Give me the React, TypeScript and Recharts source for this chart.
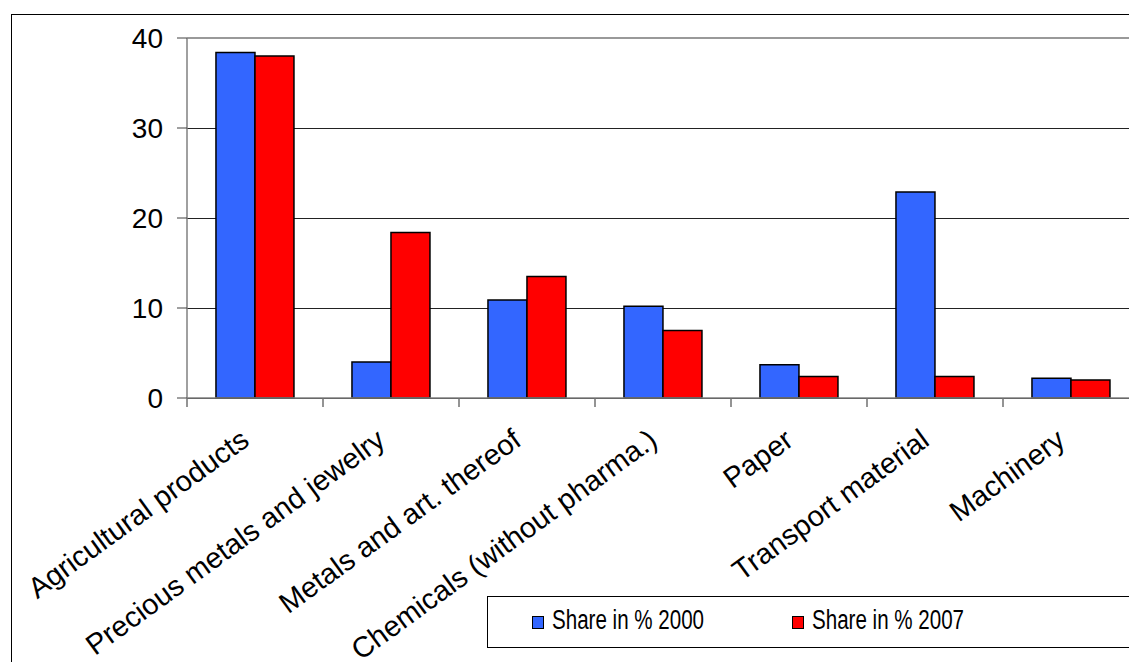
import React from "react";
import { BarChart, Bar, XAxis, YAxis, CartesianGrid, ReferenceLine, Legend } from "recharts";

const categories = [
  "Agricultural products",
  "Precious metals and jewelry",
  "Metals and art. thereof",
  "Chemicals (without pharma.)",
  "Paper",
  "Transport material",
  "Machinery",
];
const share2000 = [38.4, 4.0, 10.9, 10.2, 3.7, 22.9, 2.2];
const share2007 = [38.0, 18.4, 13.5, 7.5, 2.4, 2.4, 2.0];
const yTicks = [0, 10, 20, 30, 40];

const data = categories.map((name, i) => ({ name, s2000: share2000[i], s2007: share2007[i] }));

const FONT = "'Liberation Sans', Arial, sans-serif";
const CHART_W = 1160;
const CHART_H = 662;
const MARGIN = { top: 38, right: 21, left: 127, bottom: 64 };
const Y_AXIS_W = 60;
const X_AXIS_H = 200;
const PLOT_W = CHART_W - MARGIN.left - MARGIN.right - Y_AXIS_W;
const BAND = PLOT_W / categories.length;

// category label, rotated, plus the boundary tick on the left of each band
function CategoryTick(props: any) {
  const { x, y, payload } = props;
  const left = x - BAND / 2;
  const tx = x - 4;
  const ty = y + 46;
  return (
    <g>
      <line x1={left} x2={left} y1={y} y2={y + 9} stroke="#707070" strokeWidth={1.5} />
      <text
        x={tx}
        y={ty}
        textAnchor="end"
        transform={`rotate(-36, ${tx}, ${ty})`}
        fontFamily={FONT}
        fontSize={29}
        fill="#000"
      >
        {payload.value}
      </text>
    </g>
  );
}

// horizontal grid line snapped to the pixel grid so it stays a crisp 1px
function GridLine(props: any) {
  const { x1, x2, y1, y2 } = props;
  return <line x1={x1} x2={x2} y1={y1 + 0.5} y2={y2 + 0.5} stroke="#222" strokeWidth={1} />;
}

function LegendBox(props: any) {
  const items = props.payload || [];
  const slots = [45, 305];
  return (
    <svg width={660} height={52} style={{ display: "block" }}>
      <rect x={0.5} y={0.5} width={700} height={51} fill="#fff" stroke="#000" strokeWidth={1} />
      {items.map((it: any, i: number) => (
        <g key={it.value}>
          <rect x={slots[i] + 0.5} y={20.5} width={11} height={12} fill={it.color} stroke="#000" strokeWidth={1} />
          <text
            x={slots[i] + 20}
            y={33}
            fontFamily={FONT}
            fontSize={27}
            textLength={152}
            lengthAdjust="spacingAndGlyphs"
            fill="#000"
          >
            {it.value}
          </text>
        </g>
      ))}
    </svg>
  );
}

export default function App() {
  return (
    <div style={{ position: "absolute", left: 0, top: 0, width: 1129, height: 662, overflow: "hidden", background: "#fff" }}>
      <div
        style={{
          position: "absolute",
          left: 11,
          top: 14,
          width: 1300,
          height: 800,
          border: "1px solid #000",
        }}
      />
      <div style={{ position: "absolute", left: 0, top: 0 }}>
        <BarChart width={CHART_W} height={CHART_H} data={data} margin={MARGIN} barCategoryGap="21.3%" barGap={0}>
          <CartesianGrid horizontal={(p: any) => <GridLine key={p.key} {...p} />} vertical={false} />
          <XAxis
            dataKey="name"
            interval={0}
            height={X_AXIS_H}
            tickSize={0}
            tickMargin={0}
            tickLine={false}
            axisLine={{ stroke: "#808080", strokeWidth: 1.5 }}
            tick={<CategoryTick />}
          />
          <YAxis
            width={Y_AXIS_W}
            domain={[0, 40]}
            ticks={yTicks}
            tickSize={10}
            tickMargin={14}
            axisLine={{ stroke: "#808080", strokeWidth: 1.5 }}
            tickLine={{ stroke: "#404040", strokeWidth: 1 }}
            tick={{ fontFamily: FONT, fontSize: 28, fill: "#000" }}
          />
          <ReferenceLine y={40} stroke="#999" strokeWidth={2} />
          <Bar dataKey="s2000" name="Share in % 2000" fill="#3366FF" stroke="#000" strokeWidth={1.5} isAnimationActive={false} />
          <Bar dataKey="s2007" name="Share in % 2007" fill="#FF0000" stroke="#000" strokeWidth={1.5} isAnimationActive={false} />
          <Legend
            layout="horizontal"
            align="center"
            verticalAlign="middle"
            content={<LegendBox />}
            wrapperStyle={{ position: "absolute", left: 487, top: 596, width: 660, height: 52 }}
          />
        </BarChart>
      </div>
    </div>
  );
}
